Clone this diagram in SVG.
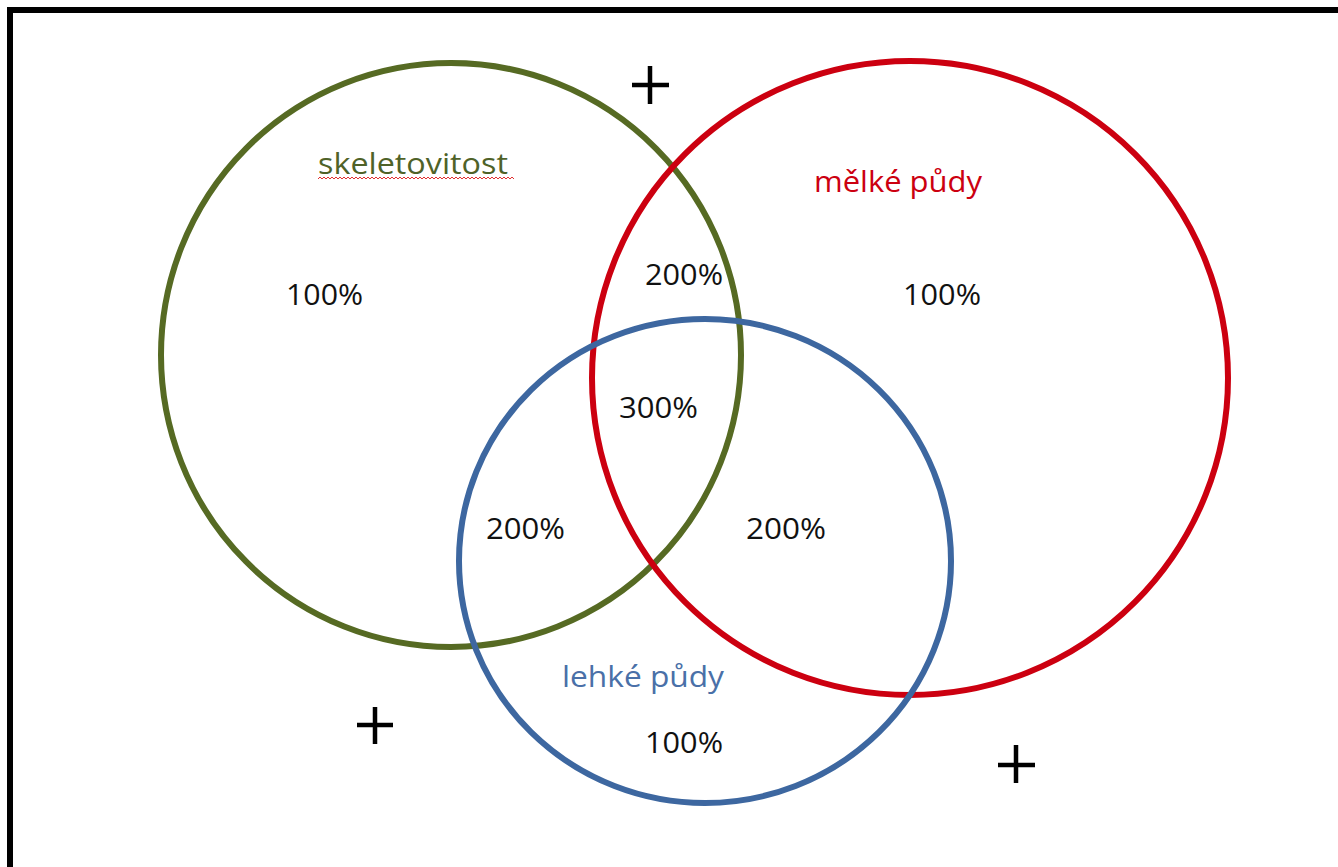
<svg xmlns="http://www.w3.org/2000/svg" width="1338" height="867" viewBox="0 0 1338 867">
<style>
  .ring { fill: none; stroke-width: 6; }
  .pct { font-family: "Open Sans", "Liberation Sans", sans-serif; font-size: 29px; fill: #111; }
  .lbl { font-family: "Open Sans", "Liberation Sans", sans-serif; font-size: 29px; }
  .plus { stroke: #000; stroke-width: 4.5; fill: none; }
</style>
<rect x="0" y="0" width="1338" height="867" fill="#ffffff"/>
<path d="M10,867 V10 H1338" fill="none" stroke="#000" stroke-width="6"/>

<g id="skeletovitost">
  <ellipse class="ring" cx="451" cy="355" rx="290" ry="292" stroke="#566A23"/>
  <text class="lbl" x="318" y="174" fill="#4F6228" textLength="190" lengthAdjust="spacingAndGlyphs">skeletovitost</text>
  <path d="M318,179 l2,-2 l2,2 l2,-2 l2,2 l2,-2 l2,2 l2,-2 l2,2 l2,-2 l2,2 l2,-2 l2,2 l2,-2 l2,2 l2,-2 l2,2 l2,-2 l2,2 l2,-2 l2,2 l2,-2 l2,2 l2,-2 l2,2 l2,-2 l2,2 l2,-2 l2,2 l2,-2 l2,2 l2,-2 l2,2 l2,-2 l2,2 l2,-2 l2,2 l2,-2 l2,2 l2,-2 l2,2 l2,-2 l2,2 l2,-2 l2,2 l2,-2 l2,2 l2,-2 l2,2 l2,-2 l2,2 l2,-2 l2,2 l2,-2 l2,2 l2,-2 l2,2 l2,-2 l2,2 l2,-2 l2,2 l2,-2 l2,2 l2,-2 l2,2 l2,-2 l2,2 l2,-2 l2,2 l2,-2 l2,2 l2,-2 l2,2 l2,-2 l2,2 l2,-2 l2,2 l2,-2 l2,2 l2,-2 l2,2 l2,-2 l2,2 l2,-2 l2,2 l2,-2 l2,2 l2,-2 l2,2 l2,-2 l2,2 l2,-2 l2,2 l2,-2 l2,2 l2,-2 l2,2 l2,-2 l2,2" fill="none" stroke="#E03030" stroke-width="1"/>
  <text class="pct" x="286" y="305" textLength="77" lengthAdjust="spacingAndGlyphs">100%</text>
</g>

<g id="melke-pudy">
  <ellipse class="ring" cx="910" cy="378" rx="318" ry="317" stroke="#CC0010"/>
  <text class="lbl" x="814" y="192" fill="#CC0010" textLength="168" lengthAdjust="spacingAndGlyphs">mělké půdy</text>
  <text class="pct" x="903" y="305" textLength="78" lengthAdjust="spacingAndGlyphs">100%</text>
</g>

<g id="lehke-pudy">
  <ellipse class="ring" cx="705" cy="561" rx="246" ry="242" stroke="#3D67A0"/>
  <text class="lbl" x="562" y="687" fill="#4A70A8" textLength="162" lengthAdjust="spacingAndGlyphs">lehké půdy</text>
  <text class="pct" x="645" y="753" textLength="78" lengthAdjust="spacingAndGlyphs">100%</text>
</g>

<g id="overlaps">
  <text class="pct" x="645" y="285" textLength="78" lengthAdjust="spacingAndGlyphs">200%</text>
  <text class="pct" x="619" y="418" textLength="79" lengthAdjust="spacingAndGlyphs">300%</text>
  <text class="pct" x="486" y="539" textLength="79" lengthAdjust="spacingAndGlyphs">200%</text>
  <text class="pct" x="746" y="539" textLength="80" lengthAdjust="spacingAndGlyphs">200%</text>
</g>

<g id="plus-signs">
  <path class="plus" d="M632,85 H669 M650,66 V104"/>
  <path class="plus" d="M357,725 H393 M375,707 V744"/>
  <path class="plus" d="M998,765 H1035 M1016,745 V783"/>
</g>
</svg>
